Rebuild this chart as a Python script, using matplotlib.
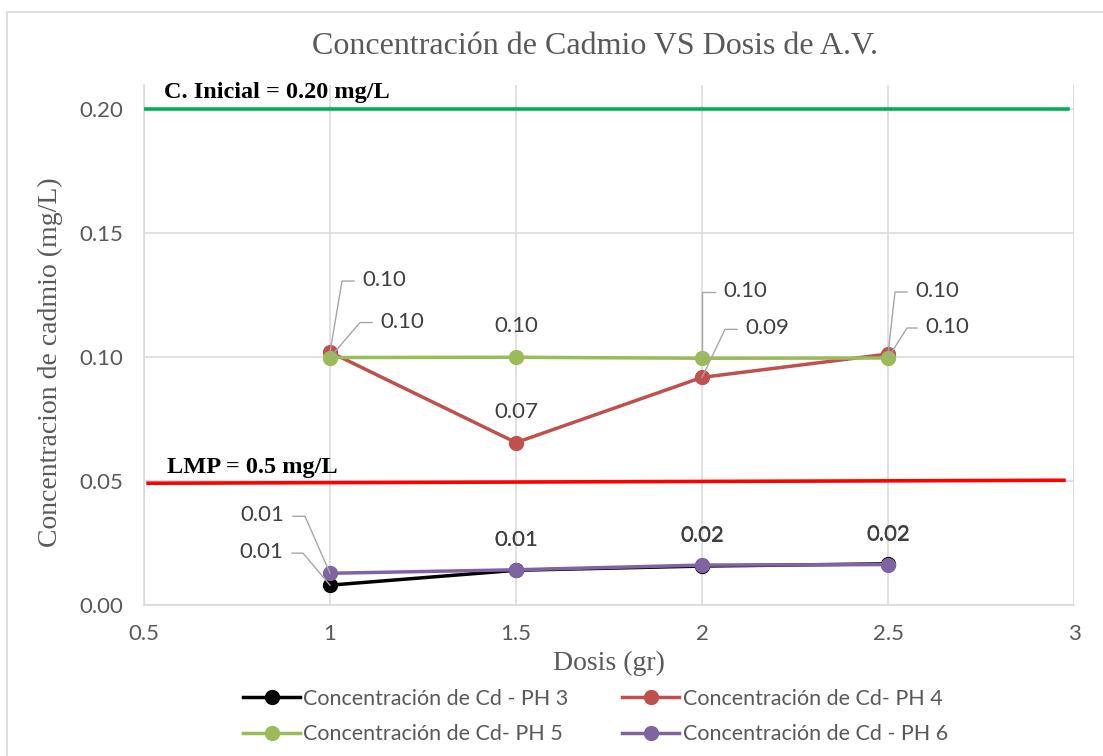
import numpy as np
import matplotlib.pyplot as plt
from matplotlib.lines import Line2D
from matplotlib.patches import Rectangle
from matplotlib.transforms import IdentityTransform

# dosis de A.V. (gr)
dosis = [1, 1.5, 2, 2.5]

# concentracion de Cd (mg/L) para cada pH
ph3 = [0.008, 0.014, 0.0157, 0.0166]
ph4 = [0.102, 0.0655, 0.0918, 0.1012]
ph5 = [0.0998, 0.0999, 0.0995, 0.0996]
ph6 = [0.0128, 0.0142, 0.0161, 0.0163]

nombres = ["Concentración de Cd - PH 3", "Concentración de Cd- PH 4",
           "Concentración de Cd- PH 5", "Concentración de Cd - PH 6"]
colores = ["#000000", "#C0504D", "#9BBB59", "#8064A2"]

c_inicial = 0.20
lmp = [0.0491, 0.0503]          # linea dibujada a mano, un poco inclinada
lmp_x = [0.511, 2.973]
ci_x = [0.5, 2.984]

gris = "#595959"
sans = "Lato"
serif = "Liberation Serif"

fig = plt.figure(figsize=(11.03, 7.56), dpi=100)
fig.patches.append(Rectangle((7 / 1103, -0.05), 1.2, 1 - 12 / 756 + 0.05,
                             transform=fig.transFigure, fill=False,
                             edgecolor="#D9D9D9", linewidth=1.2))
ax = fig.add_axes([144 / 1103, 1 - 605 / 756, 930 / 1103, 520 / 756])

ax.set_xlim(0.5, 3)
ax.set_ylim(0, 0.2097)
ax.set_xticks([0.5, 1, 1.5, 2, 2.5, 3])
ax.set_xticklabels(["0.5", "1", "1.5", "2", "2.5", "3"])
ax.set_yticks([0, 0.05, 0.10, 0.15, 0.20])
ax.set_yticklabels(["0.00", "0.05", "0.10", "0.15", "0.20"])
ax.grid(True, color="#D9D9D9", linewidth=1.1)
ax.set_axisbelow(True)
for s in ["top", "right"]:
    ax.spines[s].set_visible(False)
for s in ["left", "bottom"]:
    ax.spines[s].set_color("#D9D9D9")
    ax.spines[s].set_linewidth(1.1)
ax.tick_params(length=0, labelsize=16, labelcolor=gris)
ax.tick_params(axis="x", pad=14)
ax.tick_params(axis="y", pad=15)
for t in ax.get_xticklabels() + ax.get_yticklabels():
    t.set_fontfamily(sans)

series = [ph3, ph4, ph5, ph6]
lineas = []
for ys, nom, col in zip(series, nombres, colores):
    ln, = ax.plot(dosis, ys, color=col, linewidth=2.5, marker="o", markersize=10,
                  label=nom, zorder=3)
    lineas.append(ln)

# lineas de referencia
ax.plot(ci_x, [c_inicial, c_inicial], color="#00B050", linewidth=2.6, zorder=4)
ax.plot(lmp_x, lmp, color="#FF0000", linewidth=2.6, zorder=4)
ax.text(0.555, 0.2065, "C. Inicial = 0.20 mg/L", fontfamily=serif,
        fontweight="bold", fontsize=17.5, va="center", ha="left")
ax.text(0.563, 0.0555, "LMP = 0.5 mg/L", fontfamily=serif,
        fontweight="bold", fontsize=17.5, va="center", ha="left")

# etiquetas de datos sin guia
def etiqueta(x, y, dy=31):
    ax.annotate(f"{y:.2f}", (x, y), xytext=(0, dy), textcoords="offset pixels",
                ha="center", va="center", fontsize=16, color="#404040",
                fontfamily=sans, zorder=5)

etiqueta(dosis[1], ph5[1])
etiqueta(dosis[1], ph4[1])
for i in [1, 2, 3]:
    etiqueta(dosis[i], ph3[i], dy=30)
    etiqueta(dosis[i], ph6[i], dy=30)

fig.canvas.draw()

# etiquetas con linea guia (codo en pixeles respecto al punto)
def guia(x, y, dx, dy, seg):
    px, py = ax.transData.transform((x, y))
    ex, ey = px + dx, py + dy
    fig.add_artist(Line2D([px, ex, ex + seg], [py, ey, ey], transform=IdentityTransform(),
                          color="#A6A6A6", linewidth=1.0, zorder=5))
    if seg >= 0:
        tx, ha = ex + seg + 8, "left"
    else:
        tx, ha = ex + seg - 9, "right"
    fig.text(tx / fig.bbox.width, (ey + 1) / fig.bbox.height, f"{y:.2f}",
             ha=ha, va="center", fontsize=16, color="#404040", fontfamily=sans)

guia(dosis[0], ph4[0], 12, 71, 12)
guia(dosis[0], ph5[0], 30, 35, 12)
guia(dosis[2], ph5[2], 0, 66, 13)
guia(dosis[2], ph4[2], 23, 48, 12)
guia(dosis[3], ph4[3], 7, 62, 12)
guia(dosis[3], ph5[3], 19, 30, 10)
guia(dosis[0], ph6[0], -25, 57, -12)
guia(dosis[0], ph3[0], -27, 32, -11)

fig.text(595 / 1103, 1 - 47 / 756, "Concentración de Cadmio VS Dosis de A.V.",
         ha="center", va="center", fontsize=23, color=gris, fontfamily=serif)
fig.text(609 / 1103, 1 - 663 / 756, "Dosis (gr)", ha="center", va="center",
         fontsize=20, color=gris, fontfamily=serif)
fig.text(50 / 1103, 1 - 362 / 756, "Concentracion de cadmio (mg/L)", ha="center",
         va="center", rotation=90, fontsize=20, color=gris, fontfamily=serif)

# leyenda en dos columnas, ordenada por filas
orden = [0, 2, 1, 3]
leg = ax.legend([lineas[i] for i in orden], [nombres[i] for i in orden],
                loc="upper left", bbox_to_anchor=(243 / 1103, 1 - 689 / 756),
                bbox_transform=fig.transFigure, ncol=2, frameon=False,
                handlelength=2.65, handletextpad=0.15, columnspacing=2.5,
                labelspacing=0.7, borderaxespad=0, borderpad=0,
                prop={"family": sans, "size": 15.5})
for t in leg.get_texts():
    t.set_color(gris)

fig.savefig("out.png", dpi=100)
